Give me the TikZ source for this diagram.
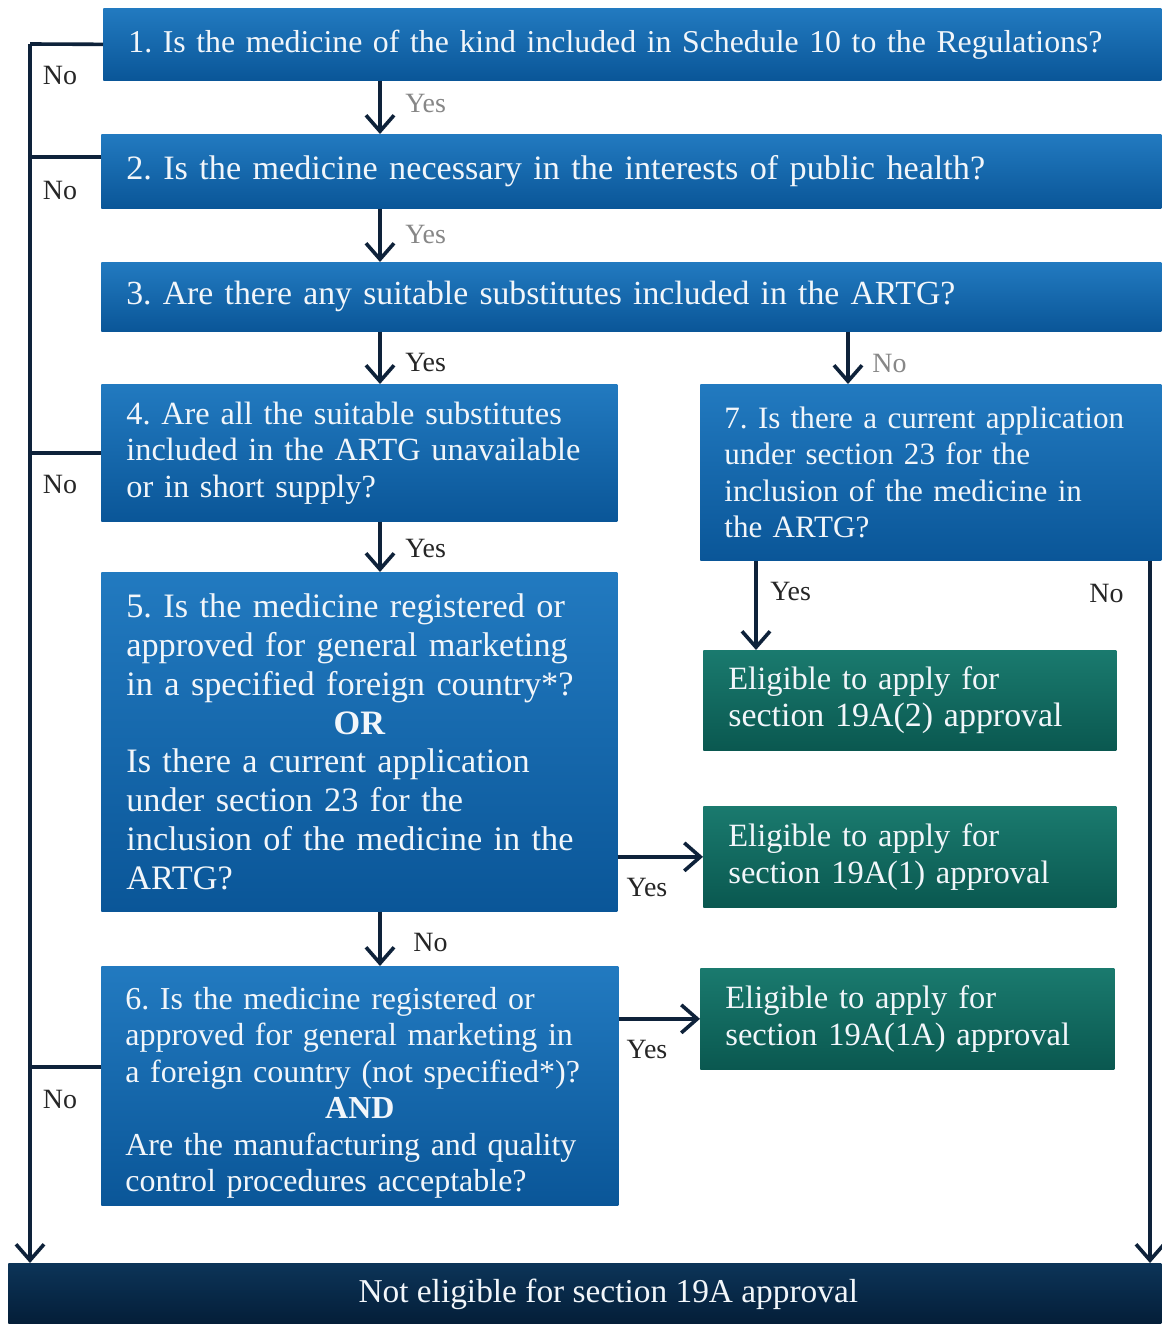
\documentclass[tikz,border=0pt]{standalone}
\usepackage{fontspec}
\setmainfont{Liberation Serif}
\usetikzlibrary{arrows.meta,calc}

\definecolor{qtop}{RGB}{34,122,192}
\definecolor{qbot}{RGB}{10,86,152}
\definecolor{gtop}{RGB}{26,122,110}
\definecolor{gbot}{RGB}{10,88,80}
\definecolor{ntop}{RGB}{12,52,88}
\definecolor{nbot}{RGB}{4,30,56}
\definecolor{wire}{RGB}{14,34,58}
\definecolor{boxtext}{RGB}{242,246,250}
\definecolor{softlabel}{RGB}{135,135,135}

\newcommand{\px}{0.02cm}
% font size in pt, line spacing in pt
\newcommand{\fsz}[2]{\fontsize{#1pt}{#2pt}\selectfont\frenchspacing}
\newcommand{\labeltext}{\fontsize{15.9pt}{18pt}\selectfont}

\tikzset{
  box/.style={anchor=north west, inner xsep=25*\px, inner ysep=0pt,
    align=left, text=boxtext, font=\fsz{18.5}{20.75}},
  qbox/.style={box, top color=qtop, bottom color=qbot},
  gbox/.style={box, top color=gtop, bottom color=gbot},
  nbox/.style={anchor=north west, inner sep=0pt, top color=ntop, bottom color=nbot,
    text=boxtext, font=\fsz{19}{21}, align=center},
  flow/.style={draw=wire, line width=3.6*\px},
  arr/.style={flow, -{Straight Barb[length=16*\px, width=28*\px, line width=3.6*\px]}},
  lbl/.style={font=\labeltext, text=black!85, inner sep=0pt},
  softlbl/.style={lbl, text=softlabel},
}

\begin{document}
\hyphenpenalty=10000 \exhyphenpenalty=10000
\begin{tikzpicture}[x=0.02cm, y=-0.02cm]
\useasboundingbox[fill=white] (0,0) rectangle (1161,1324);

% question boxes
\node[qbox, font=\fsz{18.1}{20.75}, text width=(1058-50)*\px, minimum height=72*\px] (q1) at (103,8)
  {1. Is the medicine of the kind included in Schedule 10 to the Regulations?};
\node[qbox, font=\fsz{19.45}{20.75}, text width=(1060-50)*\px, minimum height=74*\px] (q2) at (101,134)
  {2. Is the medicine necessary in the interests of public health?};
\node[qbox, font=\fsz{19.2}{20.75}, text width=(1060-50)*\px, minimum height=69*\px] (q3) at (101,262)
  {3. Are there any suitable substitutes included in the ARTG?};
\node[qbox, font=\fsz{18.4}{20.75}, text width=(516-50)*\px, minimum height=137*\px] (q4) at (101,384)
  {4. Are all the suitable substitutes\\included in the ARTG unavailable\\or in short supply?};
\node[qbox, font=\fsz{17.7}{20.6}, inner xsep=24*\px, text width=(461-48)*\px, minimum height=176*\px] (q7) at (700,384)
  {7. Is there a current application\\under section 23 for the\\inclusion of the medicine in\\the ARTG?};
\node[qbox, font=\fsz{19.5}{22.1}, text width=(516-50)*\px, minimum height=339*\px] (q5) at (101,572)
  {5. Is the medicine registered or\\approved for general marketing\\in a specified foreign country*?\\
   \makebox[\linewidth]{\bfseries OR}\\
   Is there a current application\\under section 23 for the\\inclusion of the medicine in the\\ARTG?};
\node[qbox, font=\fsz{18.2}{20.75}, inner xsep=24*\px, text width=(517-48)*\px, minimum height=239*\px] (q6) at (101,966)
  {\rule{0pt}{20.7pt}6. Is the medicine registered or\\approved for general marketing in\\a foreign country (not specified*)?\\
   \makebox[\linewidth]{\bfseries AND}\\
   Are the manufacturing and quality\\control procedures acceptable?};

% outcome boxes
\node[gbox, text width=(413-50)*\px, minimum height=100*\px] (ga) at (703,650)
  {Eligible to apply for\\\fontsize{19.3pt}{20.75pt}\selectfont section 19A(2) approval};
\node[gbox, text width=(413-50)*\px, minimum height=101*\px] (gb) at (703,806)
  {Eligible to apply for\\section 19A(1) approval};
\node[gbox, text width=(414-50)*\px, minimum height=101*\px] (gc) at (700,968)
  {Eligible to apply for\\section 19A(1A) approval};
\node[nbox, minimum width=1153*\px, minimum height=61*\px] (nb) at (8,1263)
  {\hspace*{0.94cm}Not eligible for section 19A approval};

% "Yes" path down the middle
\draw[arr] (q1.south -| 380,0) -- (q2.north -| 380,0);
\draw[arr] (q2.south -| 380,0) -- (q3.north -| 380,0);
\draw[arr] (q3.south -| 380,0) -- (q4.north -| 380,0);
\draw[arr] (q4.south -| 380,0) -- (q5.north -| 380,0);
\draw[arr] (q5.south -| 380,0) -- (q6.north -| 380,0);
\node[softlbl, anchor=west] (y1) at (405,103) {Yes};
\node[softlbl, anchor=west] (y2) at (405,234) {Yes};
\node[lbl, anchor=west] (y3) at (405,362) {Yes};
\node[lbl, anchor=west] (y4) at (405,548) {Yes};
\node[lbl, anchor=west] (n5) at (413,942) {No};

% question 3 "No" branch to question 7
\draw[arr] (q3.south -| 848,0) -- (q7.north -| 848,0);
\node[softlbl, anchor=west] (n3) at (872,363) {No};

% question 7 outcomes
\draw[arr] (q7.south -| 756,0) -- (ga.north -| 756,0);
\node[lbl, anchor=west] (y7) at (770,591) {Yes};
\draw[arr] (q7.south -| 1150,0) -- (nb.north -| 1150,0);
\node[lbl, anchor=west] (n7) at (1089,593) {No};

% questions 5 and 6 "Yes" to the right
\draw[arr] (q5.east |- gb.west) -- (gb.west);
\node[lbl] (y5) at (647,887) {Yes};
\draw[arr] (q6.east |- gc.west) -- (gc.west);
\node[lbl] (y6) at (647,1049) {Yes};

% "No" trunk on the left
\coordinate (lt) at (30,44);
\draw[flow] (q1.west) -- (lt);
\draw[arr] (lt) -- (lt |- nb.north);
\draw[flow] (q2.north west) ++(0,23) coordinate (b2) -- (b2 -| lt);
\draw[flow] (q4.west) -- (q4.west -| lt);
\draw[flow] (q6.north west) ++(0,101) coordinate (b6) -- (b6 -| lt);
\node[lbl] (n1) at (60,75) {No};
\node[lbl] (n2) at (60,190) {No};
\node[lbl] (n4) at (60,484) {No};
\node[lbl] (n6) at (60,1099) {No};
\end{tikzpicture}
\end{document}
